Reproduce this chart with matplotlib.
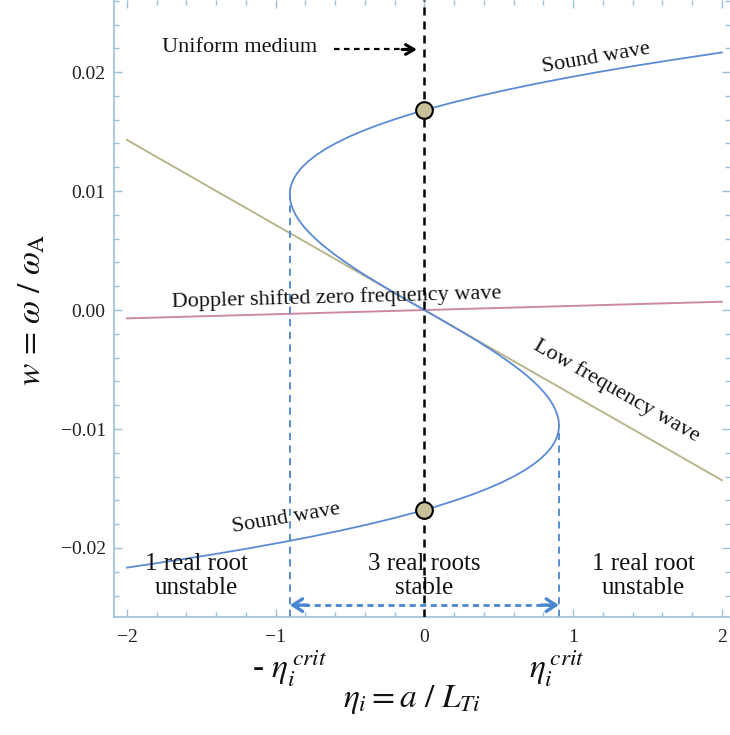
import matplotlib
matplotlib.use("Agg")
import matplotlib.pyplot as plt
from matplotlib.ticker import MultipleLocator, FixedFormatter, FixedLocator

plt.rcParams["font.family"] = ["Liberation Serif", "DejaVu Serif"]
plt.rcParams["mathtext.fontset"] = "stix"
plt.rcParams["axes.unicode_minus"] = True

# Sound-wave branch of the cubic dispersion relation: w vs eta_i
sound_w = [-0.02165, -0.021, -0.0205, -0.020, -0.0195, -0.019, -0.0185, -0.018,
           -0.0175, -0.017, -0.0165, -0.016, -0.0155, -0.015, -0.0145, -0.014,
           -0.0135, -0.013, -0.0125, -0.012, -0.0115, -0.011, -0.0105, -0.0101,
           -0.0097, -0.0093, -0.009, -0.0085, -0.008, -0.0075, -0.007, -0.0065,
           -0.006, -0.0055, -0.005, -0.0045, -0.004, -0.0035, -0.003, -0.0025,
           -0.002, -0.0015, -0.001, -0.0005,
           0.0,
           0.0005, 0.001, 0.0015, 0.002, 0.0025, 0.003, 0.0035, 0.004,
           0.0045, 0.005, 0.0055, 0.006, 0.0065, 0.007, 0.0075, 0.008,
           0.0085, 0.009, 0.0093, 0.0097, 0.0101, 0.0105, 0.011, 0.0115,
           0.012, 0.0125, 0.013, 0.0135, 0.014, 0.0145, 0.015, 0.0155,
           0.016, 0.0165, 0.017, 0.0175, 0.018, 0.0185, 0.019, 0.0195,
           0.020, 0.0205, 0.021, 0.02165]
sound_eta = [-2.000, -1.654, -1.403, -1.168, -0.948, -0.742, -0.551, -0.373,
             -0.208, -0.057, 0.082, 0.208, 0.323, 0.426, 0.518, 0.599,
             0.670, 0.730, 0.781, 0.823, 0.856, 0.880, 0.896, 0.903,
             0.905, 0.903, 0.898, 0.885, 0.866, 0.841, 0.810, 0.774,
             0.733, 0.688, 0.638, 0.585, 0.528, 0.469, 0.407, 0.342,
             0.276, 0.208, 0.140, 0.070,
             0.0,
             -0.070, -0.140, -0.208, -0.276, -0.342, -0.407, -0.469, -0.528,
             -0.585, -0.638, -0.688, -0.733, -0.774, -0.810, -0.841, -0.866,
             -0.885, -0.898, -0.903, -0.905, -0.903, -0.896, -0.880, -0.856,
             -0.823, -0.781, -0.730, -0.670, -0.599, -0.518, -0.426, -0.323,
             -0.208, -0.082, 0.057, 0.208, 0.373, 0.551, 0.742, 0.948,
             1.168, 1.403, 1.654, 2.000]

# Straight branches
low_eta = [-2.0, 2.0]
low_w = [0.0143, -0.0143]
doppler_eta = [-2.0, 2.0]
doppler_w = [-0.0007, 0.0007]

# Critical gradient and uniform-medium roots
eta_crit = 0.905
w_turn = 0.0097
uniform_eta = [0.0, 0.0]
uniform_w = [0.0168, -0.0168]

x_ticks = [-2, -1, 0, 1, 2]
x_labels = ["\u22122", "\u22121", "0", "1", "2"]
y_ticks = [-0.02, -0.01, 0.0, 0.01, 0.02]
y_labels = ["\u22120.02", "\u22120.01", "0.00", "0.01", "0.02"]

BLUE = "#5b8bd4"
DASH_BLUE = "#4a86d0"
KHAKI = "#b9b58c"
PINK = "#cc8aa2"
FRAME = "#9cc0da"
TXT = "#111111"

W, H = 730, 735
fig = plt.figure(figsize=(W / 100, H / 100), dpi=100)
ax = fig.add_axes([114 / W, 118 / H, 616 / W, 617 / H])
ax.set_xlim(-2.087, 2.055)
ax.set_ylim(-0.0258, 0.02606)

# frame
for side in ("top", "right"):
    ax.spines[side].set_visible(False)
for side in ("left", "bottom"):
    ax.spines[side].set_color(FRAME)
    ax.spines[side].set_linewidth(1.2)

ax.xaxis.set_major_locator(FixedLocator(x_ticks))
ax.xaxis.set_major_formatter(FixedFormatter(x_labels))
ax.yaxis.set_major_locator(FixedLocator(y_ticks))
ax.yaxis.set_major_formatter(FixedFormatter(y_labels))
ax.xaxis.set_minor_locator(MultipleLocator(0.2))
ax.yaxis.set_minor_locator(MultipleLocator(0.002))
ax.tick_params(which="both", direction="in", color=FRAME, top=True, right=True,
               width=1.0)
ax.tick_params(which="major", length=6)
ax.tick_params(which="minor", length=3.5)
ax.tick_params(axis="x", which="major", labelsize=14, labelcolor="#222222", pad=9)
ax.tick_params(axis="y", which="major", labelsize=14, labelcolor="#222222", pad=6)

# curves
ax.plot(low_eta, low_w, color=KHAKI, lw=1.4, zorder=2)
ax.plot(doppler_eta, doppler_w, color=PINK, lw=1.4, zorder=2)
ax.plot(sound_eta, sound_w, color=BLUE, lw=1.3, zorder=3)

# uniform-medium line at eta = 0
ax.plot([0, 0], [-0.0258, 0.02606], color="black", lw=1.8,
        dashes=[3.2, 2.4], zorder=4)

# critical gradient markers
ybot = -0.0258
ax.plot([-eta_crit, -eta_crit], [ybot, w_turn], color=DASH_BLUE, lw=1.3,
        dashes=[4, 3], zorder=2)
ax.plot([eta_crit, eta_crit], [ybot, -w_turn], color=DASH_BLUE, lw=1.3,
        dashes=[4, 3], zorder=2)

# horizontal double arrow between the critical gradients
y_arr = -0.0248
ax.plot([-eta_crit + 0.02, eta_crit - 0.02], [y_arr, y_arr], color=DASH_BLUE,
        lw=2.0, dashes=[2.2, 1.6], zorder=3)
for end, start in ((-eta_crit, -eta_crit + 0.12), (eta_crit, eta_crit - 0.12)):
    ax.annotate("", xy=(end, y_arr), xytext=(start, y_arr),
                arrowprops=dict(arrowstyle="->,head_length=0.7,head_width=0.45",
                                color=DASH_BLUE, lw=2.4, shrinkA=0, shrinkB=0),
                zorder=4)

# uniform medium roots
ax.plot(uniform_eta, uniform_w, "o", ms=12, mfc="#c9c19a", mec="black",
        mew=1.5, zorder=5)

# uniform medium annotation
y_um = 0.0219
ax.text(-1.244, 0.0221, "Uniform medium", fontsize=16, color=TXT,
        ha="center", va="center")
ax.plot([-0.605, -0.08], [y_um, y_um], color="black", lw=1.6,
        dashes=[2.5, 2.0], zorder=4)
ax.annotate("", xy=(-0.05, y_um), xytext=(-0.15, y_um),
            arrowprops=dict(arrowstyle="->,head_length=0.6,head_width=0.35",
                            color="black", lw=2.2, shrinkA=0, shrinkB=0),
            zorder=4)

# branch labels
ax.text(1.157, 0.0212, "Sound wave", fontsize=16, color=TXT, rotation=9.8,
        ha="center", va="center", rotation_mode="anchor")
ax.text(-0.928, -0.0175, "Sound wave", fontsize=16, color=TXT, rotation=9.6,
        ha="center", va="center", rotation_mode="anchor")
ax.text(-0.59, 0.0010, "Doppler shifted zero frequency wave", fontsize=16,
        color=TXT, rotation=1.5, ha="center", va="center",
        rotation_mode="anchor")
ax.text(1.29, -0.0068, "Low frequency wave", fontsize=16, color=TXT,
        rotation=-29.7, ha="center", va="center", rotation_mode="anchor")

# region labels
ax.text(-1.533, -0.02236, "1 real root\nunstable", fontsize=18, color=TXT,
        ha="center", va="center", linespacing=1.1)
ax.text(0.0, -0.02236, "3 real roots\nstable", fontsize=18, color=TXT,
        ha="center", va="center", linespacing=1.1)
ax.text(1.473, -0.02236, "1 real root\nunstable", fontsize=18, color=TXT,
        ha="center", va="center", linespacing=1.1)

# axis labels
fig.text(32 / W, 1 - 310 / H, r"$w\,=\,\omega\ /\ \omega_{\mathrm{A}}$",
         fontsize=24, rotation=90, ha="center", va="center", color=TXT)
fig.text(412 / W, 1 - 700 / H, r"$\eta_i = a\ /\ L_{Ti}$",
         fontsize=24, ha="center", va="center", color=TXT)
fig.text(290 / W, 1 - 669 / H, r"- $\eta_i^{\,crit}$",
         fontsize=24, ha="center", va="center", color=TXT)
fig.text(557 / W, 1 - 669 / H, r"$\eta_i^{\,crit}$",
         fontsize=24, ha="center", va="center", color=TXT)

fig.savefig("out.png", dpi=100)
